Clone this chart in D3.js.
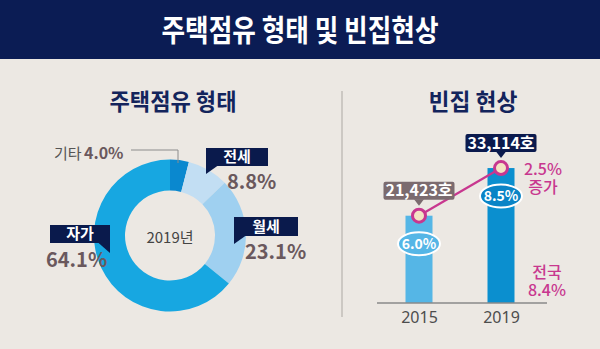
<!DOCTYPE html>
<html><head><meta charset="utf-8">
<script src="https://cdn.jsdelivr.net/npm/d3@7"></script>
<style>
  body { margin: 0; background: #ece8e3; }
  svg { display: block; }
  text { font-family: "Noto Sans CJK KR", "Noto Sans", sans-serif; }
</style>
</head><body>
<svg id="chart" width="600" height="349"></svg>
<script>
// Housing tenure (2019 shares, %)
const tenureCats = ["기타", "전세", "월세", "자가"];
const tenureShares = [4.0, 8.8, 23.1, 64.1];
const tenureColors = ["#0a88cf", "#c2def3", "#9fd0f0", "#17a7e1"];

// Vacant homes
const vacancyYears = ["2015", "2019"];
const vacantHomes = [21423, 33114];
const vacancyRates = [6.0, 8.5];
const barColors = ["#55b6e6", "#0b8fcf"];
const rateFill = ["#55b6e6", "#0a84c6"];
const countBoxFill = ["#7b6b6f", "#0b1a4d"];
const rateIncrease = 2.5;
const nationalRate = 8.4;

const NAVY = "#0b1c54", MAGENTA = "#c8378f", MAUVE = "#6a585d";
const svg = d3.select("#chart");

// header band
svg.append("rect").attr("x", 0).attr("y", 0).attr("width", 600).attr("height", 59).attr("fill", NAVY);
svg.append("text").attr("x", 300).attr("y", 41).attr("text-anchor", "middle")
  .attr("font-size", 30).attr("font-weight", 700).attr("fill", "#fff")
  .attr("textLength", 277).attr("lengthAdjust", "spacingAndGlyphs")
  .text("주택점유 형태 및 빈집현상");

// section headings
svg.append("text").attr("x", 173).attr("y", 110).attr("text-anchor", "middle")
  .attr("font-size", 23).attr("font-weight", 700).attr("fill", "#13245c")
  .attr("textLength", 127).attr("lengthAdjust", "spacingAndGlyphs").text("주택점유 형태");
svg.append("text").attr("x", 473).attr("y", 110).attr("text-anchor", "middle")
  .attr("font-size", 23).attr("font-weight", 700).attr("fill", "#13245c")
  .attr("textLength", 89).attr("lengthAdjust", "spacingAndGlyphs").text("빈집 현상");

// divider
svg.append("line").attr("x1", 342).attr("x2", 342).attr("y1", 91).attr("y2", 317)
  .attr("stroke", "#c2beb9").attr("stroke-width", 1.5);

// ---- donut ----
const cx = 170, cy = 235.5;
const pie = d3.pie().sort(null).value(d => d)(tenureShares);
const arc = d3.arc().innerRadius(45).outerRadius(76);
const donut = svg.append("g").attr("transform", `translate(${cx},${cy})`);
donut.selectAll("path").data(pie).join("path")
  .attr("d", arc).attr("fill", (d, i) => tenureColors[i]);
donut.append("text").attr("y", 7).attr("text-anchor", "middle")
  .attr("font-size", 15).attr("fill", "#444").text("2019년");

// navy tag with a small tail
function tag(x, y, w, h, tailSide, label) {
  const g = svg.append("g");
  g.append("rect").attr("x", x).attr("y", y).attr("width", w).attr("height", h).attr("fill", "#0a1a4c");
  const b = y + h;
  const pts = tailSide === "left"
    ? [[x, b - 0.5], [x + 12, b - 0.5], [x, b + 8]]
    : [[x + w, b - 0.5], [x + w - 12, b - 0.5], [x + w, b + 10]];
  g.append("polygon").attr("points", pts.map(p => p.join(",")).join(" ")).attr("fill", "#0a1a4c");
  g.append("text").attr("x", x + w / 2).attr("y", y + h - 4).attr("text-anchor", "middle")
    .attr("font-size", 15).attr("font-weight", 700).attr("fill", "#fff").text(label);
}
function pct(x, y, v, size) {
  svg.append("text").attr("x", x).attr("y", y).attr("font-size", size).attr("font-weight", 700)
    .attr("fill", MAUVE).text(v.toFixed(1) + "%");
}

// 기타: plain label with leader line
svg.append("text").attr("x", 54).attr("y", 159).attr("font-size", 15).attr("fill", "#555").text(tenureCats[0]);
pct(84, 159, tenureShares[0], 16);
svg.append("polyline").attr("points", "131,150 178,150 178,163")
  .attr("fill", "none").attr("stroke", "#8c8c8c").attr("stroke-width", 1);

tag(206, 148, 62, 18, "left", tenureCats[1]);
pct(227, 189, tenureShares[1], 20);
tag(234, 217, 64, 19, "left", tenureCats[2]);
pct(245, 259, tenureShares[2], 20);
tag(50, 225, 60, 18, "right", tenureCats[3]);
pct(46, 267, tenureShares[3], 20);

// ---- vacant homes bars ----
const x = d3.scalePoint().domain(vacancyYears).range([419, 501]);
const y = d3.scaleLinear().domain([0, 40000]).range([303, 140]);
const bw = 27;

svg.selectAll("rect.bar").data(vacantHomes).join("rect").attr("class", "bar")
  .attr("x", (d, i) => x(vacancyYears[i]) - bw / 2).attr("y", d => y(d))
  .attr("width", bw).attr("height", d => y(0) - y(d))
  .attr("fill", (d, i) => barColors[i]);

svg.append("line").attr("x1", 377).attr("x2", 547).attr("y1", y(0)).attr("y2", y(0))
  .attr("stroke", "#8a8a8a").attr("stroke-width", 1.5);

const xAxis = svg.append("g").attr("transform", `translate(0,${y(0)})`)
  .call(d3.axisBottom(x).tickSize(0).tickPadding(9));
xAxis.select(".domain").remove();
xAxis.selectAll("text").attr("font-size", 16).attr("fill", "#4d4d4d")
  .style("font-family", "'Noto Sans', 'Noto Sans CJK KR', sans-serif");

// rate ellipses
vacancyRates.forEach((r, i) => {
  const ex = x(vacancyYears[i]), ey = y(vacantHomes[i]) + 28;
  svg.append("ellipse").attr("cx", ex).attr("cy", ey).attr("rx", 21).attr("ry", 11.5)
    .attr("fill", rateFill[i]).attr("stroke", "#fff").attr("stroke-width", 2);
  svg.append("text").attr("x", ex).attr("y", ey + 5).attr("text-anchor", "middle")
    .attr("font-size", 14).attr("font-weight", 700).attr("fill", "#fff").text(r.toFixed(1) + "%");
});

// trend line with markers at the counts
const line = d3.line().x((d, i) => x(vacancyYears[i])).y(d => y(d));
svg.append("path").attr("d", line(vacantHomes)).attr("fill", "none")
  .attr("stroke", MAGENTA).attr("stroke-width", 2.2);
svg.selectAll("circle.pt").data(vacantHomes).join("circle").attr("class", "pt")
  .attr("cx", (d, i) => x(vacancyYears[i])).attr("cy", d => y(d)).attr("r", 6.5)
  .attr("fill", "#f3e3c3").attr("stroke", MAGENTA).attr("stroke-width", 3);

// count callouts
vacantHomes.forEach((v, i) => {
  const px = x(vacancyYears[i]), py = y(v);
  const w = 71, h = 18, bottom = py - 16;
  svg.append("rect").attr("x", px - w / 2).attr("y", bottom - h).attr("width", w).attr("height", h)
    .attr("rx", 2).attr("fill", countBoxFill[i]);
  svg.append("polygon")
    .attr("points", `${px - 5},${bottom - 0.5} ${px + 5},${bottom - 0.5} ${px},${bottom + 6}`)
    .attr("fill", countBoxFill[i]);
  svg.append("text").attr("x", px).attr("y", bottom - 3.5).attr("text-anchor", "middle")
    .attr("font-size", 16).attr("font-weight", 700).attr("fill", "#fff")
    .text(d3.format(",")(v) + "호");
});

// side notes: two-line magenta annotations
function note(xc, yb, lines) {
  const t = svg.append("text").attr("x", xc).attr("y", yb)
    .attr("text-anchor", "middle").attr("font-size", 16).attr("font-weight", 500)
    .attr("fill", MAGENTA);
  lines.forEach((s, k) => t.append("tspan").attr("x", xc).attr("dy", k === 0 ? 0 : 17.5).text(s));
}
note(543, 175, [rateIncrease.toFixed(1) + "%", "증가"]);
note(547, 278, ["전국", nationalRate.toFixed(1) + "%"]);
</script>
</body></html>
